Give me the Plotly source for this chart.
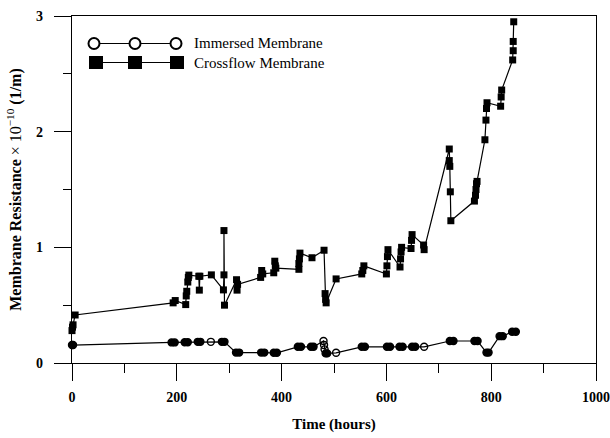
import plotly.graph_objects as go

# ---------------- data ----------------
imm_time = [0, 2, 190, 196, 215, 221, 240, 245, 265, 286, 291, 313, 319,
            361, 367, 385, 391, 431, 437, 456, 461, 480, 481, 482, 484, 487,
            504, 553, 559, 601, 607, 625, 631, 649, 655, 672, 721, 728,
            768, 774, 791, 795, 816, 822, 840, 847]
imm_value = [0.155, 0.155, 0.178, 0.178, 0.18, 0.18, 0.183, 0.183, 0.183, 0.183, 0.183,
             0.09, 0.09, 0.09, 0.09, 0.088, 0.088, 0.14, 0.14, 0.14, 0.14,
             0.19, 0.155, 0.118, 0.083, 0.083, 0.088, 0.14, 0.14, 0.14, 0.14,
             0.14, 0.14, 0.14, 0.14, 0.14, 0.19, 0.19, 0.19, 0.19, 0.09, 0.09,
             0.232, 0.232, 0.27, 0.27]
imm_open = [0, 0, 0, 0, 0, 0, 0, 0, 1, 0, 0, 0, 0,
            0, 0, 0, 0, 0, 0, 0, 0, 1, 1, 1, 0, 0,
            1, 0, 0, 0, 0, 0, 0, 0, 0, 1, 0, 0,
            0, 0, 0, 0, 0, 0, 0, 0]

cross_time = [0, 1, 2, 6, 193, 197, 217, 218, 219, 221, 222, 223,
              242, 243, 244, 266, 289, 290, 290, 291,
              314, 315, 316, 360, 362, 364, 385, 387, 388, 389,
              433, 433, 434, 435, 458, 481, 483, 484, 485, 504,
              553, 555, 557, 600, 601, 602, 603, 626, 627, 628, 629,
              647, 648, 649, 671, 672,
              720, 720, 721, 722, 723, 768, 770, 771, 772, 773,
              788, 790, 791, 792, 818, 819, 820, 841, 842, 842, 843]
cross_value = [0.28, 0.31, 0.33, 0.415, 0.52, 0.54, 0.505, 0.58, 0.62, 0.70, 0.74, 0.76,
               0.75, 0.63, 0.75, 0.762, 0.632, 0.762, 1.145, 0.50,
               0.72, 0.63, 0.68, 0.74, 0.80, 0.77, 0.78, 0.88, 0.84, 0.82,
               0.81, 0.86, 0.90, 0.95, 0.91, 0.975, 0.60, 0.55, 0.52, 0.727,
               0.77, 0.80, 0.84, 0.77, 0.84, 0.92, 0.98, 0.83, 0.90, 0.96, 1.0,
               0.99, 1.06, 1.11, 1.02, 0.98,
               1.85, 1.75, 1.70, 1.48, 1.23, 1.40, 1.45, 1.50, 1.55, 1.57,
               1.93, 2.10, 2.20, 2.25, 2.22, 2.30, 2.36, 2.62, 2.70, 2.78, 2.95]

x_ticks = [0, 200, 400, 600, 800, 1000]
y_ticks = [0, 1, 2, 3]
series_names = ["Immersed Membrane", "Crossflow Membrane"]

FONT = "Liberation Serif, Times New Roman, serif"

fig = go.Figure()
fig.add_trace(go.Scatter(
    x=imm_time, y=imm_value, mode="lines+markers", name=series_names[0],
    line=dict(color="black", width=1.2),
    marker=dict(symbol=["circle-open" if o else "circle" for o in imm_open],
                size=7, color="black", line=dict(color="black", width=1.4)),
    cliponaxis=False, showlegend=False))
fig.add_trace(go.Scatter(
    x=cross_time, y=cross_value, mode="lines+markers", name=series_names[1],
    line=dict(color="black", width=1.2),
    marker=dict(symbol="square", size=7, color="black"),
    cliponaxis=False, showlegend=False))

# ---------------- custom legend (three markers on a line) ----------------
L, R, T, B = 72, 14, 16, 75
W, H = 610 - L - R, 438 - T - B
def px(x):
    return (x - L) / W
def py(y):
    return (438 - B - y) / H

shapes = []
rows = [(43.5, "circle", [94, 135, 176]), (62.5, "square", [96, 135, 177])]
for yc, kind, xs in rows:
    shapes.append(dict(type="line", xref="paper", yref="paper",
                       x0=px(xs[0]), x1=px(xs[-1]), y0=py(yc), y1=py(yc),
                       line=dict(color="black", width=1.2), layer="above"))
    for xc in xs:
        if kind == "circle":
            shapes.append(dict(type="circle", xref="paper", yref="paper",
                               xsizemode="pixel", ysizemode="pixel",
                               xanchor=px(xc), yanchor=py(yc),
                               x0=-5.5, x1=5.5, y0=-5.5, y1=5.5,
                               fillcolor="white", line=dict(color="black", width=2),
                               layer="above"))
        else:
            shapes.append(dict(type="rect", xref="paper", yref="paper",
                               xsizemode="pixel", ysizemode="pixel",
                               xanchor=px(xc), yanchor=py(yc),
                               x0=-7, x1=7, y0=-6.5, y1=6.5,
                               fillcolor="black", line=dict(color="black", width=0),
                               layer="above"))

annotations = []
for (yc, _, _), name in zip(rows, series_names):
    annotations.append(dict(xref="paper", yref="paper", x=px(192), y=py(yc),
                            xanchor="left", yanchor="middle", showarrow=False,
                            text=name, font=dict(family=FONT, size=15, color="black")))

axis_common = dict(showline=True, linecolor="black", linewidth=1.2, mirror=True,
                   ticks="outside", ticklen=17, tickwidth=1.2, tickcolor="black",
                   showgrid=False, zeroline=False, automargin=False,
                   tickfont=dict(family=FONT, size=14, color="black", weight="bold"))

y_title = ("Membrane Resistance <span style='font-weight:normal'>\u00d7 10<sup>\u221210</sup></span> (1/m)")

fig.update_layout(
    width=610, height=438,
    margin=dict(l=L, r=R, t=T, b=B),
    paper_bgcolor="white", plot_bgcolor="white",
    shapes=shapes, annotations=annotations,
    xaxis=dict(range=[0, 1000], tickvals=x_ticks, ticktext=[str(v) for v in x_ticks],
               minor=dict(dtick=100, ticks="outside", ticklen=9, tickwidth=1.2, tickcolor="black", tick0=0),
               title=dict(text="Time (hours)", standoff=14,
                          font=dict(family=FONT, size=15, color="black", weight="bold")),
               ticklabelstandoff=4,
               **axis_common),
    yaxis=dict(range=[0, 3], tickvals=y_ticks, ticktext=[str(v) for v in y_ticks],
               minor=dict(dtick=0.5, ticks="outside", ticklen=8, tickwidth=1.2, tickcolor="black", tick0=0),
               title=dict(text=y_title, standoff=10,
                          font=dict(family=FONT, size=16, color="black", weight="bold")),
               ticklabelstandoff=8,
               **axis_common),
)

fig.write_html("out.html")
